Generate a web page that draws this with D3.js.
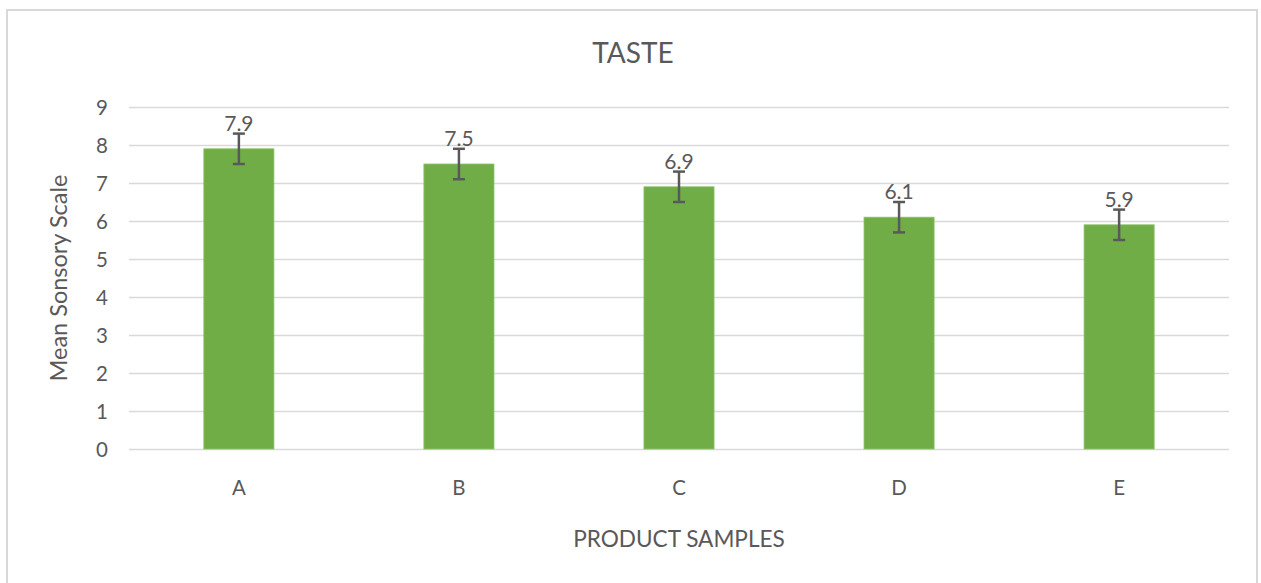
<!DOCTYPE html>
<html>
<head>
<meta charset="utf-8">
<script src="https://cdn.jsdelivr.net/npm/d3@7"></script>
<style>
  html, body { margin: 0; padding: 0; background: #fff; }
  svg { display: block; }
  text { font-family: Lato, "Open Sans", sans-serif; fill: #595959; }
</style>
</head>
<body>
<svg id="chart" width="1261" height="583"></svg>
<script>
const categories = ["A", "B", "C", "D", "E"];
const values = [7.9, 7.5, 6.9, 6.1, 5.9];
const errors = [0.4, 0.4, 0.4, 0.4, 0.4];
const yTicks = [0, 1, 2, 3, 4, 5, 6, 7, 8, 9];
const chartTitle = "TASTE";
const xTitle = "PRODUCT SAMPLES";
const yTitle = "Mean Sonsory Scale";

const svg = d3.select("#chart");
const plot = { left: 129, right: 1229, top: 107, bottom: 449 };

// outer border
svg.append("rect")
  .attr("x", 7).attr("y", 10).attr("width", 1250).attr("height", 590)
  .attr("fill", "#fff").attr("stroke", "#d9d9d9").attr("stroke-width", 2);

const x = d3.scaleBand().domain(categories)
  .range([plot.left, plot.right]).paddingInner(0.6815).paddingOuter(0.34);
const y = d3.scaleLinear().domain([0, 9]).range([plot.bottom, plot.top]);

// gridlines
svg.append("g").selectAll("line").data(yTicks).join("line")
  .attr("x1", plot.left).attr("x2", plot.right)
  .attr("y1", d => Math.round(y(d)) + 0.5).attr("y2", d => Math.round(y(d)) + 0.5)
  .attr("stroke", "#d9d9d9").attr("stroke-width", 1.5);

// y axis labels
const yAxis = d3.axisLeft(y).tickValues(yTicks).tickSize(0).tickPadding(0);
const yg = svg.append("g").attr("transform", `translate(${plot.left - 21},0)`).call(yAxis);
yg.select(".domain").remove();
yg.selectAll("text").attr("font-size", 20.5).attr("fill", "#595959")
  .style("font-family", "Lato, 'Open Sans', sans-serif").attr("dy", "0.35em");

// x axis labels
const xAxis = d3.axisBottom(x).tickSize(0).tickPadding(0);
const xg = svg.append("g").attr("transform", `translate(0,${plot.bottom + 31})`).call(xAxis);
xg.select(".domain").remove();
xg.selectAll("text").attr("font-size", 20.5).attr("fill", "#595959")
  .style("font-family", "Lato, 'Open Sans', sans-serif");

// bars
svg.append("g").selectAll("rect").data(categories).join("rect")
  .attr("x", d => x(d)).attr("width", x.bandwidth())
  .attr("y", (d, i) => y(values[i])).attr("height", (d, i) => y(0) - y(values[i]))
  .attr("fill", "#70ad47").attr("stroke", "#8cc26a").attr("stroke-width", 0.8);

// data labels
svg.append("g").selectAll("text").data(categories).join("text")
  .attr("x", d => x(d) + x.bandwidth() / 2)
  .attr("y", (d, i) => y(values[i]) - 18)
  .attr("text-anchor", "middle").attr("font-size", 21)
  .attr("fill", "#404040")
  .text((d, i) => values[i]);

// error bars
const eg = svg.append("g").attr("stroke", "#595959").attr("stroke-width", 2.5);
categories.forEach((c, i) => {
  const cx = x(c) + x.bandwidth() / 2;
  const y1 = y(values[i] + errors[i]), y2 = y(values[i] - errors[i]);
  eg.append("line").attr("x1", cx).attr("x2", cx).attr("y1", y1).attr("y2", y2);
  eg.append("line").attr("x1", cx - 6).attr("x2", cx + 6).attr("y1", y1).attr("y2", y1);
  eg.append("line").attr("x1", cx - 6).attr("x2", cx + 6).attr("y1", y2).attr("y2", y2);
});

// titles
svg.append("text").attr("x", 633).attr("y", 63).attr("text-anchor", "middle")
  .attr("font-size", 28).text(chartTitle);
svg.append("text").attr("x", 679).attr("y", 547).attr("text-anchor", "middle")
  .attr("font-size", 22.6).text(xTitle);
svg.append("text").attr("transform", "translate(67,278) rotate(-90)")
  .attr("text-anchor", "middle").attr("font-size", 23.5).text(yTitle);
</script>
</body>
</html>
